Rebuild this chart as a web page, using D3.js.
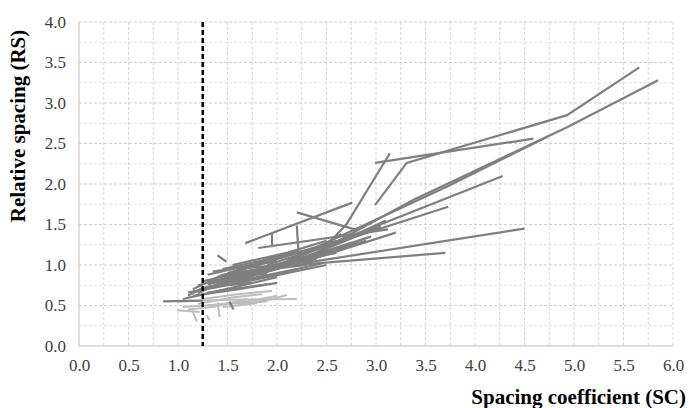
<!DOCTYPE html>
<html>
<head>
<meta charset='utf-8'>
<script src='https://cdn.jsdelivr.net/npm/d3@7'></script>
<style>
body { margin: 0; background: #fff; }
</style>
</head>
<body>
<div id='chart'></div>
<script>
var serif = '"Liberation Serif", serif';

// tick values
var xTicks = [0, 0.5, 1, 1.5, 2, 2.5, 3, 3.5, 4, 4.5, 5, 5.5, 6];
var yTicks = [0, 0.5, 1, 1.5, 2, 2.5, 3, 3.5, 4];
var thresholdSC = 1.25;

// dark gray series, each one is a list of [SC, RS]
var darkSeries = [
  [[2.99,1.74],[3.31,2.26],[4.93,2.85],[5.66,3.44]],
  [[2.99,2.26],[4.59,2.56]],
  [[2.35,1.05],[2.70,1.50],[3.14,2.38]],
  [[2.20,1.02],[3.37,1.80],[4.93,2.70],[5.85,3.28]],
  [[2.10,1.05],[3.72,1.97],[4.74,2.59]],
  [[1.70,0.85],[4.28,2.10]],
  [[2.25,1.02],[4.50,1.45]],
  [[2.00,0.98],[3.70,1.15]],
  [[1.90,1.00],[3.73,1.72]],
  [[2.20,1.65],[2.81,1.43]],
  [[1.68,1.27],[2.76,1.77]],
  [[1.81,1.21],[3.12,1.44]],
  [[1.95,1.40],[1.95,1.22]],
  [[2.20,1.49],[2.22,1.09]],
  [[1.30,0.72],[2.40,1.15],[3.10,1.55]],
  [[1.25,0.70],[2.00,0.95],[3.05,1.48]],
  [[1.35,0.80],[2.30,1.10],[2.95,1.35]],
  [[1.50,0.90],[2.50,1.25],[3.00,1.45]],
  [[1.40,0.85],[2.60,1.30]],
  [[1.20,0.75],[2.20,1.05],[2.80,1.25]],
  [[1.45,0.95],[2.40,1.20],[2.65,1.38]],
  [[1.55,1.00],[2.10,1.15],[2.50,1.30]],
  [[1.30,0.88],[1.90,1.05]],
  [[1.40,1.12],[1.49,1.04]],
  [[1.10,0.62],[1.25,0.72],[1.80,0.85],[2.20,0.95]],
  [[1.05,0.58],[1.30,0.65],[2.00,0.85]],
  [[1.20,0.68],[1.70,0.80],[2.50,1.00]],
  [[1.60,0.82],[2.30,1.05],[3.20,1.40]],
  [[0.85,0.55],[1.25,0.56]],
  [[1.15,0.62],[1.60,0.70],[2.00,0.78]],
  [[1.30,0.66],[1.90,0.76]],
  [[1.25,0.80],[1.60,0.90],[2.30,1.00]],
  [[1.35,0.92],[1.70,0.98],[2.00,1.05]],
  [[1.55,0.78],[2.10,0.92],[2.45,1.02]],
  [[1.52,0.55],[1.56,0.45]],
  [[1.80,0.95],[2.35,1.12],[2.90,1.30]],
  [[1.20,0.65],[1.50,0.82],[1.90,0.90]],
  [[1.15,0.70],[1.45,0.88],[2.05,1.00]],
  [[1.30,0.76],[1.85,0.92],[2.40,1.08]],
  [[1.50,0.86],[1.95,1.10],[2.30,1.18]],
  [[1.60,0.95],[2.00,1.00],[2.60,1.15]],
  [[1.10,0.66],[1.40,0.74],[1.75,0.78]]
];

// light gray series
var lightSeries = [
  [[1.00,0.55],[1.50,0.57],[2.20,0.58]],
  [[1.05,0.48],[1.50,0.52],[1.90,0.55]],
  [[1.10,0.45],[1.35,0.48],[1.70,0.58]],
  [[0.99,0.44],[1.22,0.42]],
  [[1.15,0.42],[1.19,0.30]],
  [[1.29,0.38],[1.32,0.32]],
  [[1.40,0.54],[1.42,0.36]],
  [[1.20,0.52],[1.55,0.60],[1.85,0.64]],
  [[1.30,0.50],[1.70,0.55],[2.00,0.62]],
  [[1.45,0.48],[1.80,0.53]],
  [[1.60,0.50],[1.95,0.58],[2.10,0.63]],
  [[1.25,0.58],[1.60,0.64],[1.95,0.68]]
];

var W = 689, H = 408;
var margin = {top: 22, right: 16, bottom: 62, left: 79};
var width = W - margin.left - margin.right,
height = H - margin.top - margin.bottom;

var svg = d3.select('#chart')
.append('svg')
.attr('width', W)
.attr('height', H);

var g = svg.append('g')
.attr('transform', 'translate(' + margin.left + ',' + margin.top + ')');

var x = d3.scaleLinear().domain([0, 6]).range([0, width]);
var y = d3.scaleLinear().domain([0, 4]).range([height, 0]);

// grid, every 0.25
var xGrid = d3.range(1, 25).map(function(i) { return i * 0.25; });
var yGrid = d3.range(1, 17).map(function(i) { return i * 0.25; });

g.selectAll('.vgrid')
.data(xGrid)
.enter()
.append('line')
.attr('x1', function(d) { return x(d); })
.attr('x2', function(d) { return x(d); })
.attr('y1', 0)
.attr('y2', height)
.style('stroke', '#d6d6d6')
.style('stroke-width', 1)
.style('stroke-dasharray', '3,2');

g.selectAll('.hgrid')
.data(yGrid)
.enter()
.append('line')
.attr('x1', 0)
.attr('x2', width)
.attr('y1', function(d) { return y(d); })
.attr('y2', function(d) { return y(d); })
.style('stroke', function(d) { return d % 0.5 === 0 ? '#cfcfcf' : '#e0e0e0'; })
.style('stroke-width', 1)
.style('stroke-dasharray', '3,2');

// axes lines
g.append('line')
.attr('x1', 0).attr('x2', 0)
.attr('y1', 0).attr('y2', height)
.style('stroke', '#bfbfbf');
g.append('line')
.attr('x1', 0).attr('x2', width)
.attr('y1', height).attr('y2', height)
.style('stroke', '#bfbfbf');

// tick labels
var xAxis = d3.axisBottom(x).tickValues(xTicks).tickSize(0).tickPadding(13)
.tickFormat(d3.format('.1f'));
var yAxis = d3.axisLeft(y).tickValues(yTicks).tickSize(0).tickPadding(13)
.tickFormat(d3.format('.1f'));

var gx = g.append('g').attr('transform', 'translate(0,' + height + ')').call(xAxis);
var gy = g.append('g').call(yAxis);
[gx, gy].forEach(function(a) {
  a.select('.domain').remove();
  a.selectAll('text')
  .style('font-family', serif)
  .style('font-size', '17px')
  .style('fill', '#404040');
});

// series
var line = d3.line()
.x(function(d) { return x(d[0]); })
.y(function(d) { return y(d[1]); });

g.selectAll('.light')
.data(lightSeries)
.enter()
.append('path')
.attr('d', line)
.style('fill', 'none')
.style('stroke', '#bdbdbd')
.style('stroke-width', 2);

g.selectAll('.dark')
.data(darkSeries)
.enter()
.append('path')
.attr('d', line)
.style('fill', 'none')
.style('stroke', '#7f7f7f')
.style('stroke-width', 2.2);

// threshold line
g.append('line')
.attr('x1', x(thresholdSC)).attr('x2', x(thresholdSC))
.attr('y1', 0).attr('y2', height)
.style('stroke', '#000')
.style('stroke-width', 2.5)
.style('stroke-dasharray', '5,3');

// axis titles
svg.append('text')
.attr('x', 686)
.attr('y', 404)
.attr('text-anchor', 'end')
.style('font-family', serif)
.style('font-weight', 'bold')
.style('font-size', '21px')
.text('Spacing coefficient (SC)');

svg.append('text')
.attr('transform', 'translate(25,126) rotate(-90)')
.attr('text-anchor', 'middle')
.style('font-family', serif)
.style('font-weight', 'bold')
.style('font-size', '21px')
.text('Relative spacing (RS)');
</script>
</body>
</html>
